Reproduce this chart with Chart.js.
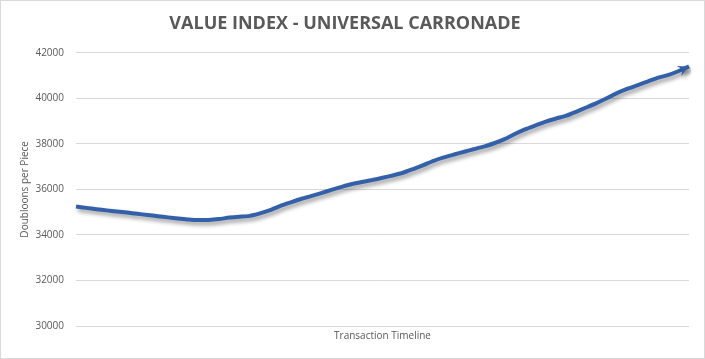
<!DOCTYPE html>
<html lang="en">
<head>
<meta charset="UTF-8">
<title>Value Index - Universal Carronade</title>
<style>
    body { margin: 0; background: #ffffff; }
    .moldura { width: 703px; height: 357px; border: 1px solid #d9d9d9; background: #ffffff; }
</style>
</head>
<body>
<div class="moldura">
    <canvas id="graficoValor" width="703" height="357"></canvas>
</div>
<script src="https://cdn.jsdelivr.net/npm/chart.js"></script>
<script>
    // dados
    const periodos = [
        1, 2, 3, 4, 5, 6, 7, 8, 9, 10,
        11, 12, 13, 14, 15, 16, 17, 18, 19, 20,
        21, 22, 23, 24, 25, 26, 27, 28, 29, 30,
        31, 32, 33, 34, 35, 36, 37, 38, 39, 40,
        41, 42, 43, 44, 45, 46, 47, 48, 49, 50,
        51, 52, 53, 54, 55, 56, 57, 58, 59, 60,
        61
    ];
    const valores = [
        35244, 35187, 35130, 35077, 35029, 34980, 34927, 34875, 34822, 34769,
        34725, 34681, 34655, 34655, 34695, 34760, 34796, 34835, 34945, 35086,
        35275, 35429, 35578, 35701, 35833, 35978, 36110, 36233, 36325, 36409,
        36506, 36611, 36730, 36892, 37064, 37253, 37402, 37530, 37653, 37771,
        37890, 38035, 38215, 38440, 38642, 38809, 38976, 39112, 39235, 39415,
        39604, 39798, 40009, 40233, 40418, 40580, 40743, 40905, 41024, 41196,
        41398
    ];
    const ticksY = [30000, 32000, 34000, 36000, 38000, 40000, 42000];

    const corLinha = '#3360a9';
    const corTexto = '#595959';

    // sombra da linha + ponta de seta no ultimo ponto
    const pluginSeta = {
        id: 'seta',
        beforeDatasetsDraw(chart) {
            const ctx = chart.ctx;
            ctx.save();
            ctx.shadowColor = 'rgba(0,0,0,0.4)';
            ctx.shadowBlur = 4;
            ctx.shadowOffsetX = 2;
            ctx.shadowOffsetY = 3;
        },
        afterDatasetsDraw(chart) {
            const ctx = chart.ctx;
            const pts = chart.getDatasetMeta(0).data;
            const a = pts[pts.length - 2];
            const b = pts[pts.length - 1];
            const ang = Math.atan2(b.y - a.y, b.x - a.x);
            ctx.translate(b.x, b.y);
            ctx.rotate(ang);
            ctx.beginPath();
            ctx.moveTo(0, 0);
            ctx.lineTo(-11, -5.5);
            ctx.lineTo(-7, 0);
            ctx.lineTo(-11, 5.5);
            ctx.closePath();
            ctx.fillStyle = corLinha;
            ctx.fill();
            ctx.restore();
        }
    };

    const ctx = document.getElementById('graficoValor').getContext('2d');
    new Chart(ctx, {
        type: 'line',
        data: {
            labels: periodos,
            datasets: [{
                label: 'Valor',
                data: valores,
                borderColor: corLinha,
                borderWidth: 4,
                borderCapStyle: 'butt',
                pointRadius: 0,
                tension: 0.2,
                fill: false
            }]
        },
        options: {
            responsive: false,
            animation: false,
            layout: { padding: { left: 0, right: 15, top: 0, bottom: 0 } },
            plugins: {
                legend: { display: false },
                tooltip: { enabled: false },
                title: {
                    display: true,
                    text: 'VALUE INDEX - UNIVERSAL CARRONADE',
                    color: corTexto,
                    font: { family: 'Open Sans', size: 18, weight: 'bold' },
                    padding: { top: 12.5, bottom: 17.6 }
                }
            },
            scales: {
                x: {
                    offset: false,
                    grid: { display: false },
                    border: { display: false },
                    ticks: { display: false },
                    title: {
                        display: true,
                        text: 'Transaction Timeline',
                        color: corTexto,
                        font: { family: 'Open Sans', size: 10 },
                        padding: { top: 0, bottom: 16 }
                    },
                    afterFit(scale) { scale.height = 32; }
                },
                y: {
                    min: ticksY[0],
                    max: ticksY[ticksY.length - 1],
                    afterBuildTicks(scale) {
                        scale.ticks = ticksY.map(v => ({ value: v }));
                    },
                    grid: { color: '#d9d9d9', drawTicks: false },
                    border: { display: false },
                    ticks: {
                        color: corTexto,
                        font: { family: 'Open Sans', size: 10 },
                        padding: 12,
                        callback: v => String(v)
                    },
                    title: {
                        display: true,
                        text: 'Doubloons per Piece',
                        color: corTexto,
                        font: { family: 'Open Sans', size: 10 },
                        padding: { top: 18, bottom: 0 }
                    },
                    afterFit(scale) { scale.width = 75; }
                }
            }
        },
        plugins: [pluginSeta]
    });
</script>
</body>
</html>
